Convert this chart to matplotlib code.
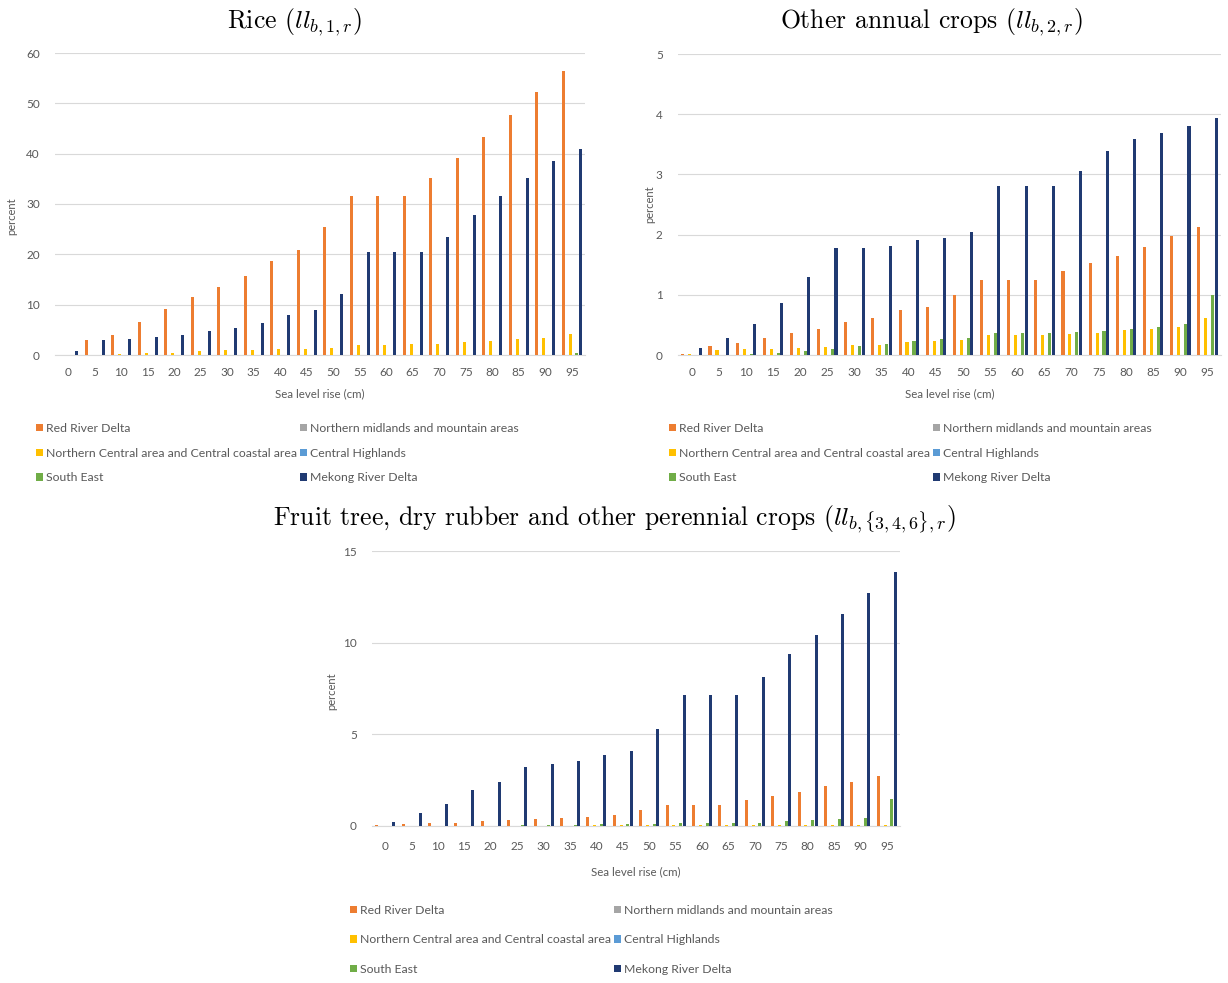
import matplotlib
matplotlib.use("Agg")
import matplotlib.pyplot as plt
import numpy as np

plt.rcParams['font.family'] = ['Lato', 'DejaVu Sans']
plt.rcParams['mathtext.fontset'] = 'cm'

sea_level = [0, 5, 10, 15, 20, 25, 30, 35, 40, 45, 50, 55, 60, 65, 70, 75, 80, 85, 90, 95]
regions = ["Red River Delta", "Northern midlands and mountain areas",
           "Northern Central area and Central coastal area", "Central Highlands",
           "South East", "Mekong River Delta"]
colors = ["#ED7D31", "#A5A5A5", "#FFC000", "#5B9BD5", "#70AD47", "#203A72"]

# Rice
rice_red = [0, 3.0, 4.0, 6.6, 9.1, 11.6, 13.6, 15.7, 18.6, 20.9, 25.4, 31.6, 31.6, 31.6, 35.2, 39.2, 43.3, 47.7, 52.2, 56.5]
rice_midlands = [0, 0, 0, 0, 0, 0, 0, 0, 0, 0, 0, 0, 0, 0, 0, 0, 0, 0, 0, 0]
rice_central = [0, 0, 0.1, 0.3, 0.4, 0.7, 0.9, 1.0, 1.1, 1.2, 1.3, 2.0, 2.0, 2.1, 2.2, 2.5, 2.8, 3.1, 3.3, 4.1]
rice_highlands = [0, 0, 0, 0, 0, 0, 0, 0, 0, 0, 0, 0, 0, 0, 0, 0, 0, 0, 0, 0]
rice_southeast = [0, 0, 0, 0, 0, 0, 0, 0, 0, 0, 0, 0, 0, 0, 0, 0, 0, 0, 0, 0.3]
rice_mekong = [0.8, 3.0, 3.1, 3.5, 3.9, 4.8, 5.4, 6.3, 8.0, 9.0, 12.1, 20.4, 20.4, 20.4, 23.5, 27.9, 31.6, 35.2, 38.5, 40.9]

# Other annual crops
annual_red = [0.02, 0.15, 0.20, 0.28, 0.36, 0.44, 0.55, 0.62, 0.74, 0.80, 0.99, 1.25, 1.25, 1.25, 1.40, 1.52, 1.64, 1.80, 1.98, 2.13]
annual_midlands = [0, 0, 0, 0, 0, 0, 0, 0, 0, 0, 0, 0, 0, 0, 0, 0, 0, 0, 0, 0]
annual_central = [0.01, 0.08, 0.10, 0.10, 0.11, 0.14, 0.16, 0.17, 0.21, 0.23, 0.25, 0.33, 0.33, 0.33, 0.35, 0.37, 0.42, 0.43, 0.46, 0.61]
annual_highlands = [0, 0, 0, 0, 0, 0, 0, 0, 0, 0, 0, 0, 0, 0, 0, 0, 0, 0, 0, 0]
annual_southeast = [0, 0, 0.02, 0.04, 0.07, 0.10, 0.15, 0.18, 0.23, 0.27, 0.28, 0.36, 0.36, 0.36, 0.38, 0.40, 0.43, 0.46, 0.51, 1.00]
annual_mekong = [0.11, 0.29, 0.51, 0.87, 1.30, 1.77, 1.77, 1.81, 1.91, 1.95, 2.05, 2.81, 2.81, 2.81, 3.05, 3.39, 3.59, 3.68, 3.81, 3.93]

# Fruit tree, dry rubber and other perennial crops
perennial_red = [0.03, 0.10, 0.15, 0.15, 0.25, 0.33, 0.38, 0.42, 0.50, 0.60, 0.85, 1.15, 1.15, 1.15, 1.40, 1.62, 1.85, 2.17, 2.40, 2.71]
perennial_midlands = [0, 0, 0, 0, 0, 0, 0, 0, 0, 0, 0, 0, 0, 0, 0, 0, 0, 0, 0, 0]
perennial_central = [0, 0, 0, 0, 0.02, 0.02, 0.02, 0.02, 0.03, 0.03, 0.03, 0.04, 0.04, 0.04, 0.04, 0.05, 0.05, 0.05, 0.05, 0.06]
perennial_highlands = [0, 0, 0, 0, 0, 0, 0, 0, 0, 0, 0, 0, 0, 0, 0, 0, 0, 0, 0, 0]
perennial_southeast = [0, 0, 0, 0, 0, 0.03, 0.05, 0.07, 0.10, 0.10, 0.12, 0.15, 0.15, 0.15, 0.18, 0.25, 0.33, 0.38, 0.45, 1.50]
perennial_mekong = [0.22, 0.71, 1.22, 1.95, 2.40, 3.22, 3.37, 3.52, 3.90, 4.08, 5.30, 7.17, 7.17, 7.17, 8.14, 9.36, 10.40, 11.57, 12.70, 13.84]

W, H = 1228, 983
fig = plt.figure(figsize=(W / 100, H / 100), dpi=100)

def px_axes(left, top, right, bottom):
    return fig.add_axes([left / W, 1 - bottom / H, (right - left) / W, (bottom - top) / H])

TXT = "#595959"
GRID = "#D9D9D9"

def draw(ax, series, ymax, ystep, xpad, xlabelpad):
    x = np.arange(len(sea_level))
    step = 0.128
    handles = []
    for j, (vals, col, name) in enumerate(zip(series, colors, regions)):
        h = ax.bar(x + (j - 2.5) * step, vals, width=0.115, color=col, label=name, zorder=3)
        handles.append(h)
    ax.set_xlim(-0.5, len(sea_level) - 0.5)
    ax.set_ylim(0, ymax)
    ax.set_yticks(np.arange(0, ymax + 0.001, ystep))
    ax.set_xticks(x)
    ax.set_xticklabels([str(v) for v in sea_level])
    for s in ["top", "right", "left"]:
        ax.spines[s].set_visible(False)
    ax.spines["bottom"].set_color(GRID)
    ax.spines["bottom"].set_linewidth(0.8)
    ax.grid(axis="y", color=GRID, linewidth=0.8, zorder=0)
    ax.set_axisbelow(True)
    ax.tick_params(axis="both", length=0, labelsize=8.5, labelcolor=TXT)
    ax.tick_params(axis="x", pad=xpad)
    ax.tick_params(axis="y", pad=11)
    ax.set_xlabel("Sea level rise (cm)", fontsize=8.3, color=TXT, labelpad=xlabelpad)
    ax.set_ylabel("percent", fontsize=8, color=TXT)
    return handles

def legend(handles, x, y, spacing):
    order = [0, 2, 4, 1, 3, 5]
    fig.legend([handles[i] for i in order], [regions[i] for i in order],
               loc="upper left", bbox_to_anchor=(x / W, 1 - y / H), ncol=2,
               frameon=False, fontsize=8.8, labelcolor=TXT, handlelength=0.55,
               handleheight=0.55, handletextpad=0.25, columnspacing=0.25,
               labelspacing=spacing, borderpad=0, borderaxespad=0)

title_kw = dict(fontsize=18.5, family="cmr10", ha="center", va="center")

# Rice
ax1 = px_axes(55, 53, 585, 355)
h1 = draw(ax1, [rice_red, rice_midlands, rice_central, rice_highlands, rice_southeast, rice_mekong], 60, 10, 9, 7)
ax1.yaxis.set_label_coords((17 - 55) / 530, 0.46)
fig.text(294 / W, 1 - 22 / H, r"Rice ($ll_{b,1,r}$)", **title_kw)
legend(h1, 36, 423, 1.12)

# Other annual crops
ax2 = px_axes(678, 54, 1221, 355)
h2 = draw(ax2, [annual_red, annual_midlands, annual_central, annual_highlands, annual_southeast, annual_mekong], 5, 1, 9, 7)
ax2.yaxis.set_label_coords((655 - 678) / 543, 0.5)
fig.text(932 / W, 1 - 22 / H, r"Other annual crops ($ll_{b,2,r}$)", **title_kw)
legend(h2, 669, 423, 1.12)

# Perennial crops
ax3 = px_axes(372, 551, 900, 826)
h3 = draw(ax3, [perennial_red, perennial_midlands, perennial_central, perennial_highlands, perennial_southeast, perennial_mekong], 15, 5, 11, 10)
ax3.yaxis.set_label_coords((337 - 372) / 528, 0.49)
fig.text(614 / W, 1 - 519 / H, r"Fruit tree, dry rubber and other perennial crops ($ll_{b,\{3,4,6\},r}$)", **title_kw)
legend(h3, 350, 905, 1.5)

fig.savefig("out.png", dpi=100, facecolor="white")
